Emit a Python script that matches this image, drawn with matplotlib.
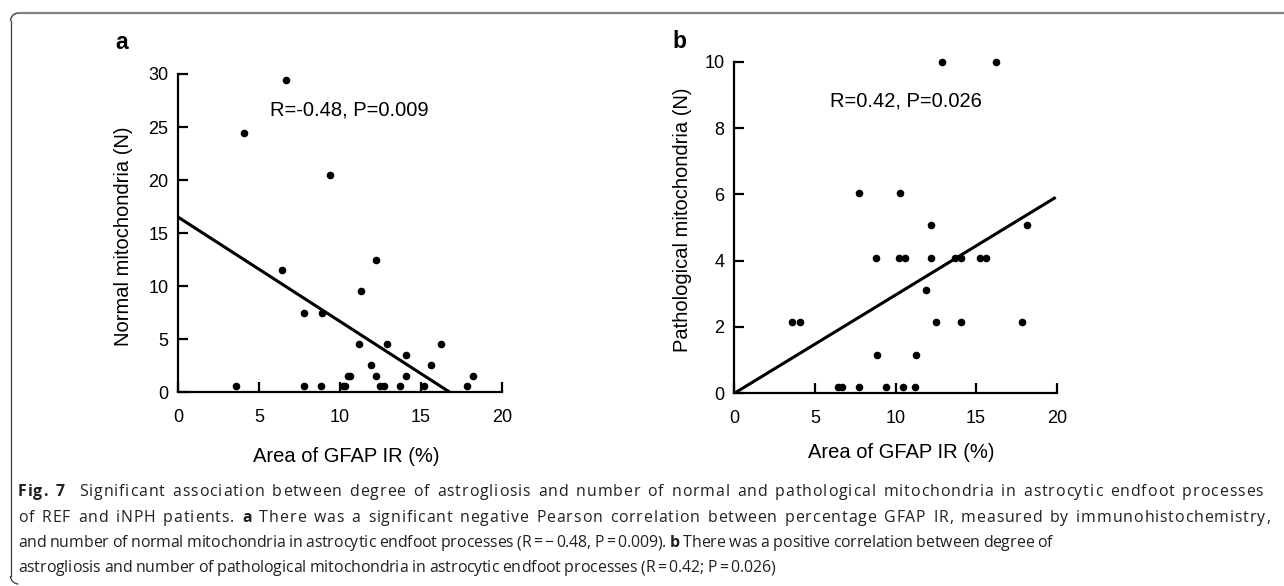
import numpy as np
import matplotlib
matplotlib.use("Agg")
import matplotlib.pyplot as plt
from matplotlib.lines import Line2D
from matplotlib.patches import Arc
from matplotlib.transforms import IdentityTransform

# ---------------- data ----------------
gfap_a = [3.55, 4.06, 6.39, 6.66, 7.77, 7.77, 8.80, 8.88, 9.38, 10.2, 10.3, 10.5, 10.6,
          11.2, 11.3, 11.9, 12.2, 12.2, 12.5, 12.7, 12.9, 13.7, 14.1, 14.1, 15.2, 15.6,
          16.25, 17.85, 18.2]
normal_mito = [0.6, 24.4, 11.5, 29.4, 7.5, 0.6, 0.6, 7.5, 20.45, 0.6, 0.6, 1.56, 1.56,
               4.55, 9.55, 2.57, 12.5, 1.56, 0.6, 0.6, 4.55, 0.6, 3.55, 1.56, 0.6, 2.57,
               4.55, 0.6, 1.56]
fit_a_x = [0.0, 16.8]
fit_a_y = [16.5, 0.0]

gfap_b = [3.56, 4.07, 6.41, 6.68, 7.76, 7.76, 8.79, 8.87, 9.39, 10.2, 10.3, 10.49, 10.59,
          11.21, 11.29, 11.89, 12.2, 12.2, 12.49, 12.9, 13.67, 14.08, 14.08, 15.22, 15.64,
          16.24, 17.85, 18.14]
patho_mito = [2.14, 2.14, 0.18, 0.18, 6.04, 0.18, 4.09, 1.16, 0.18, 4.09, 6.04, 0.18, 4.09,
              0.18, 1.16, 3.12, 5.08, 4.09, 2.14, 9.98, 4.09, 4.09, 2.14, 4.09, 4.09,
              9.98, 2.14, 5.08]
fit_b_x = [0.0, 19.94]
fit_b_y = [0.0, 5.91]

x_ticks = [0, 5, 10, 15, 20]
y_ticks_a = [0, 5, 10, 15, 20, 25, 30]
y_ticks_b = [0, 2, 4, 6, 8, 10]

stat_a = "R=-0.48, P=0.009"
stat_b = "R=0.42, P=0.026"
xlabel = "Area of GFAP IR (%)"
ylabel_a = "Normal mitochondria (N)"
ylabel_b = "Pathological mitochondria (N)"

caption_lines = [
    [("Fig. 7", "bold"), ("  Significant association between degree of astrogliosis and number of normal and pathological mitochondria in astrocytic endfoot processes", "normal")],
    [("of REF and iNPH patients. ", "normal"), ("a", "bold"), (" There was a significant negative Pearson correlation between percentage GFAP IR, measured by immunohistochemistry,", "normal")],
    [("and number of normal mitochondria in astrocytic endfoot processes (R\u2009=\u2009\u2212\u20090.48, P\u2009=\u20090.009). ", "normal"), ("b", "bold"), (" There was a positive correlation between degree of", "normal")],
    [("astrogliosis and number of pathological mitochondria in astrocytic endfoot processes (R\u2009=\u20090.42; P\u2009=\u20090.026)", "normal")],
]

# ---------------- figure ----------------
W, H = 1284, 586
fig = plt.figure(figsize=(W / 100, H / 100), dpi=100)
fig.patch.set_facecolor("white")
plt.rcParams["font.family"] = ["Liberation Sans", "DejaVu Sans"]

LABEL_FS = 14.5


def px_axes(l, r, t, b):
    return [l / W, 1 - b / H, (r - l) / W, (b - t) / H]


def style(ax, xlim, ylim, xt, yt):
    ax.set_xlim(*xlim)
    ax.set_ylim(*ylim)
    ax.set_xticks(xt)
    ax.set_yticks(yt)
    for s in ["top", "right"]:
        ax.spines[s].set_visible(False)
    for s in ["left", "bottom"]:
        ax.spines[s].set_linewidth(1.6)
        ax.spines[s].set_color("black")
    ax.tick_params(axis="both", direction="in", length=7.5, width=1.6, labelsize=13,
                   colors="black")
    ax.tick_params(axis="x", pad=12)
    ax.tick_params(axis="y", pad=7)
    ax.set_facecolor("none")


# panel a
axa = fig.add_axes(px_axes(178.3, 501.7, 74, 392.3))
style(axa, (0, 20), (0, 30), x_ticks, y_ticks_a)
axa.scatter(gfap_a, normal_mito, s=20, color="black", zorder=3, clip_on=False)
axa.plot(fit_a_x, fit_a_y, color="black", lw=2.2, solid_capstyle="butt")
axa.text(5.67, 26.6, stat_a, fontsize=LABEL_FS, va="center", ha="left")
axa.set_xlabel(xlabel, fontsize=LABEL_FS)
axa.set_ylabel(ylabel_a, fontsize=LABEL_FS)
axa.xaxis.label.set_va("center")
axa.yaxis.label.set_va("center")
axa.xaxis.set_label_coords(0.52, -0.202)
axa.yaxis.set_label_coords(-0.168, 0.491)

# panel b
axb = fig.add_axes(px_axes(734.3, 1056.7, 61.7, 393.3))
style(axb, (0, 20), (0, 10), x_ticks, y_ticks_b)
axb.scatter(gfap_b, patho_mito, s=20, color="black", zorder=3, clip_on=False)
axb.plot(fit_b_x, fit_b_y, color="black", lw=2.2, solid_capstyle="butt")
axb.text(5.94, 8.82, stat_b, fontsize=LABEL_FS, va="center", ha="left")
axb.set_xlabel(xlabel, fontsize=LABEL_FS)
axb.set_ylabel(ylabel_b, fontsize=LABEL_FS)
axb.xaxis.label.set_va("center")
axb.yaxis.label.set_va("center")
axb.xaxis.set_label_coords(0.519, -0.18)
axb.yaxis.set_label_coords(-0.162, 0.523)

# panel letters
fig.text(121.7 / W, 1 - 42.7 / H, "a", fontsize=16.5, fontweight="bold", ha="center", va="center")
fig.text(679.3 / W, 1 - 42.0 / H, "b", fontsize=16.5, fontweight="bold", ha="center", va="center")

# ---------------- frame ----------------
ident = IdentityTransform()
r = 8
top_y = H - 13
left_x = 10.5
bot_y = H - 584
fig.lines.append(Line2D([left_x + r, W], [top_y, top_y], transform=ident, color="#808080", lw=1.6))
fig.lines.append(Line2D([left_x, left_x], [top_y - r, bot_y + r], transform=ident, color="#3a3a3a", lw=0.9))
fig.patches.append(Arc((left_x + r, top_y - r), 2 * r, 2 * r, theta1=90, theta2=180,
                       transform=ident, color="#4a4a4a", lw=1.1))
fig.patches.append(Arc((left_x + r, bot_y + r), 2 * r, 2 * r, theta1=180, theta2=270,
                       transform=ident, color="#3a3a3a", lw=0.9))

# ---------------- caption: spacing adjusted so each line ends where the reference does ----
cap_font = ["Open Sans", "DejaVu Sans"]
cap_color = "#231f20"
cap_size = 11.4
cap_x0 = 18.0
line_end = [1263.0, 1270.0, 1052.0, 775.0]
line_base = [495.5, 521.5, 547.0, 572.5]
fig.canvas.draw()
renderer = fig.canvas.get_renderer()
_cache = {}


def text_w(s, wt):
    t = fig.text(0, 0, s, fontsize=cap_size, fontweight=wt, family=cap_font)
    w = t.get_window_extent(renderer=renderer).width
    t.remove()
    return w


def adv(ch, wt):
    key = (ch, wt)
    if key not in _cache:
        _cache[key] = text_w("a" + ch + "a", wt) - text_w("aa", wt)
    return _cache[key]


for segs, yb, end in zip(caption_lines, line_base, line_end):
    chars = [(c, wt) for txt, wt in segs for c in txt]
    advs = [adv(c, wt) for c, wt in chars]
    weights = [3.0 if c == " " else 1.0 for c, _ in chars[:-1]] + [0.0]
    unit = ((end - cap_x0) - sum(advs)) / sum(weights)
    x = cap_x0
    for (c, wt), a, wgt in zip(chars, advs, weights):
        if not c.isspace():
            fig.text(x / W, 1 - yb / H, c, fontsize=cap_size, fontweight=wt,
                     family=cap_font, ha="left", va="baseline", color=cap_color)
        x += a + unit * wgt

fig.savefig("out.png", dpi=100, facecolor="white")
